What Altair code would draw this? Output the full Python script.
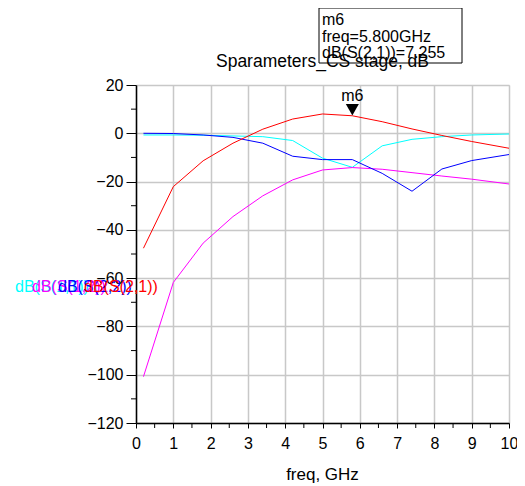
import altair as alt
import pandas as pd

# ---- data ----
freq = [0.2, 1.0, 1.8, 2.6, 3.4, 4.2, 5.0, 5.8, 6.6, 7.4, 8.2, 9.0, 10.0]
s11 = [-0.7, -0.7, -0.8, -1.1, -1.4, -3.0, -10.3, -14.1, -5.2, -2.5, -1.4, -0.7, -0.3]
s12 = [-100.8, -61.8, -45.5, -34.5, -25.9, -19.3, -15.2, -14.2, -14.9, -16.3, -17.7, -19.0, -21.0]
s21 = [-47.6, -22.1, -11.4, -4.1, 1.7, 5.9, 8.0, 7.255, 4.8, 1.8, -0.9, -3.4, -6.2]
s22 = [0.0, -0.1, -0.7, -1.7, -4.1, -9.5, -10.9, -10.9, -16.6, -24.0, -14.8, -11.3, -8.8]
series_names = ["dB(S(1,1))", "dB(S(1,2))", "dB(S(2,2))", "dB(S(2,1))"]
series_colors = ["#00ffff", "#ff00ff", "#0000ff", "#ff0000"]
x_ticks = list(range(0, 11))
x_minor = [0.5, 1.5, 2.5, 3.5, 4.5, 5.5, 6.5, 7.5, 8.5, 9.5]
y_ticks = [-120, -100, -80, -60, -40, -20, 0, 20]
y_minor = [-110, -90, -70, -50, -30, -10, 10]
marker_freq = [5.8]
marker_val = [7.255]
title_text = "Sparameters_CS stage, dB"
x_title = "freq, GHz"
marker_lines = ["m6", "freq=5.800GHz", "dB(S(2,1))=7.255"]

rows = []
for name, vals in zip(series_names, [s11, s12, s22, s21]):
    for f, v in zip(freq, vals):
        rows.append({"freq": f, "val": v, "series": name})
df = pd.DataFrame(rows)

W, H = 373, 338
FONT = "Liberation Sans"
one = pd.DataFrame({"a": [0]})

xscale = alt.Scale(domain=[0, 10], nice=False, zero=False)
yscale = alt.Scale(domain=[-120, 20], nice=False, zero=False)
xaxis = alt.Axis(
    values=x_ticks, title=None, tickSize=5, tickColor="black", tickWidth=1,
    labelFontSize=16, labelFont=FONT, labelColor="black", labelPadding=7,
    grid=True, gridColor="#c8c8c8", gridWidth=1.5,
    domainColor="black", domainWidth=1.5, labelFlush=False)
yaxis = alt.Axis(
    values=y_ticks, title=None, tickSize=10, tickColor="black", tickWidth=1,
    labelFontSize=16, labelFont=FONT, labelColor="black", labelPadding=3,
    grid=True, gridColor="#c8c8c8", gridWidth=1.5,
    domainColor="black", domainWidth=1.5, labelFlush=False)

lines = alt.Chart(df).mark_line(strokeWidth=1, clip=True).encode(
    x=alt.X("freq:Q", scale=xscale, axis=xaxis),
    y=alt.Y("val:Q", scale=yscale, axis=yaxis),
    color=alt.Color("series:N", scale=alt.Scale(domain=series_names, range=series_colors), legend=None),
    detail="series:N",
)

xminor = alt.Chart(pd.DataFrame({"freq": x_minor})).mark_rule(color="black", strokeWidth=1).encode(
    x=alt.X("freq:Q", scale=xscale, axis=xaxis), y=alt.value(H), y2=alt.value(H + 5))
yminor = alt.Chart(pd.DataFrame({"val": y_minor})).mark_rule(color="black", strokeWidth=1).encode(
    y=alt.Y("val:Q", scale=yscale, axis=yaxis), x=alt.value(-5), x2=alt.value(0))

mdf = pd.DataFrame({"freq": marker_freq, "val": marker_val})
tri = alt.Chart(mdf).mark_point(shape="triangle-down", filled=True, color="black",
                                size=170, opacity=1, yOffset=-6).encode(
    x=alt.X("freq:Q", scale=xscale, axis=xaxis), y=alt.Y("val:Q", scale=yscale, axis=yaxis))
mlabel = alt.Chart(mdf).mark_text(text="m6", fontSize=16, font=FONT, color="black",
                                  dy=-15, baseline="alphabetic", align="center").encode(
    x=alt.X("freq:Q", scale=xscale, axis=xaxis), y=alt.Y("val:Q", scale=yscale, axis=yaxis))

title = alt.Chart(one).mark_text(fontSize=17.5, font=FONT, color="black", align="center",
                                 baseline="alphabetic").encode(
    x=alt.value(W / 2), y=alt.value(-18), text=alt.value(title_text))
xtitle = alt.Chart(one).mark_text(fontSize=17, font=FONT, color="black", align="center",
                                  baseline="alphabetic").encode(
    x=alt.value(W / 2), y=alt.value(H + 57), text=alt.value(x_title))

box = alt.Chart(one).mark_rect(filled=False, stroke="black", strokeWidth=1).encode(
    x=alt.value(183), x2=alt.value(326), y=alt.value(-77), y2=alt.value(-22))
box_texts = []
for i, t in enumerate(marker_lines):
    box_texts.append(alt.Chart(one).mark_text(fontSize=16, font=FONT, color="black", align="left",
                                              baseline="alphabetic").encode(
        x=alt.value(186), y=alt.value(-60 + i * 16.5), text=alt.value(t)))

label_x = [-121, -104, -78, -52]
labels = []
for name, col, lx in zip(series_names, series_colors, label_x):
    labels.append(alt.Chart(one).mark_text(fontSize=16, font=FONT, color=col, align="left",
                                           baseline="alphabetic").encode(
        x=alt.value(lx), y=alt.value(207), text=alt.value(name)))

chart = alt.layer(lines, xminor, yminor, tri, mlabel, title, xtitle, box, *box_texts, *labels).properties(
    width=W, height=H,
    padding={"left": 128, "top": 77, "right": 8, "bottom": 62},
    autosize="none",
).configure_view(stroke="black", strokeWidth=1.5).configure(background="white")

chart.save("out.html", embed_options={"renderer": "svg", "actions": False})
